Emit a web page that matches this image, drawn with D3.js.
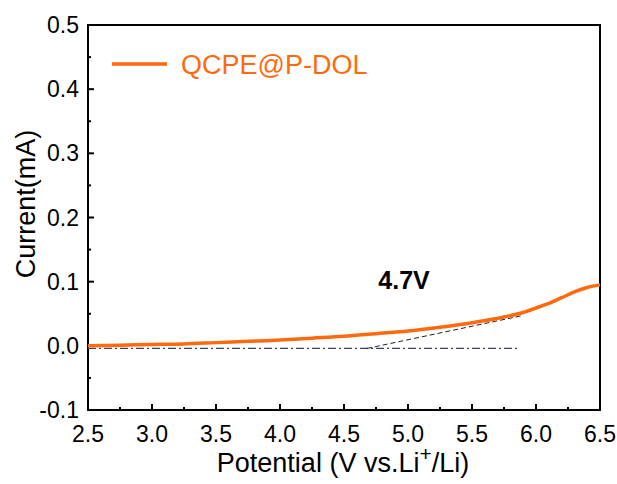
<!DOCTYPE html>
<html>
<head>
<meta charset="utf-8">
<script src="https://cdn.jsdelivr.net/npm/d3@7"></script>
<style>
  body { margin: 0; background: #fff; }
  svg text { font-family: Arial, "Liberation Sans", sans-serif; }
</style>
</head>
<body>
<div id="chart"></div>
<script>
// LSV curve, QCPE@P-DOL
const potential = [2.5, 2.75, 3.0, 3.25, 3.5, 3.75, 4.0, 4.25, 4.5, 4.75, 5.0, 5.25, 5.5, 5.75, 5.9, 6.0, 6.1, 6.2, 6.3, 6.4, 6.5];
const current   = [0.000, 0.001, 0.002, 0.003, 0.005, 0.007, 0.009, 0.012, 0.015, 0.019, 0.023, 0.029, 0.036, 0.045, 0.052, 0.059, 0.066, 0.075, 0.084, 0.091, 0.095];
const baselineX = [2.5, 5.86];
const baselineY = [-0.004, -0.004];
const tangentX = [4.68, 5.89];
const tangentY = [-0.004, 0.047];
const xTicks = [2.5, 3.0, 3.5, 4.0, 4.5, 5.0, 5.5, 6.0, 6.5];
const yTicks = [-0.1, 0.0, 0.1, 0.2, 0.3, 0.4, 0.5];
const seriesName = "QCPE@P-DOL";
const onsetLabel = "4.7V";

const width = 617, height = 484;
const margin = {left: 88, right: 17, top: 25, bottom: 74};
const orange = "#ff6a0e";
const fmt = d => d.toFixed(1);

const svg = d3.select("#chart").append("svg")
    .attr("width", width).attr("height", height);

const x = d3.scaleLinear().domain([2.5, 6.5]).range([margin.left, width - margin.right]);
const y = d3.scaleLinear().domain([-0.1, 0.5]).range([height - margin.bottom, margin.top]);

// frame
svg.append("rect")
    .attr("x", x(2.5)).attr("y", y(0.5))
    .attr("width", x(6.5) - x(2.5)).attr("height", y(-0.1) - y(0.5))
    .attr("fill", "none").attr("stroke", "#000").attr("stroke-width", 2);

// x axis, ticks inside
const xMinor = d3.range(2.75, 6.5, 0.5);
svg.append("g").selectAll("line.maj").data(xTicks.slice(1, -1)).enter().append("line")
    .attr("x1", d => x(d)).attr("x2", d => x(d))
    .attr("y1", y(-0.1)).attr("y2", y(-0.1) - 6)
    .attr("stroke", "#000").attr("stroke-width", 2);
svg.append("g").selectAll("line.min").data(xMinor).enter().append("line")
    .attr("x1", d => x(d)).attr("x2", d => x(d))
    .attr("y1", y(-0.1)).attr("y2", y(-0.1) - 3)
    .attr("stroke", "#000").attr("stroke-width", 2);
svg.append("g").selectAll("text").data(xTicks).enter().append("text")
    .attr("x", d => x(d)).attr("y", y(-0.1) + 32)
    .attr("text-anchor", "middle").attr("font-size", 23)
    .text(fmt);

// y axis, ticks inside
const yMinor = d3.range(-0.05, 0.5, 0.1);
svg.append("g").selectAll("line.maj").data(yTicks.slice(1, -1)).enter().append("line")
    .attr("x1", x(2.5)).attr("x2", x(2.5) + 6)
    .attr("y1", d => y(d)).attr("y2", d => y(d))
    .attr("stroke", "#000").attr("stroke-width", 2);
svg.append("g").selectAll("line.min").data(yMinor).enter().append("line")
    .attr("x1", x(2.5)).attr("x2", x(2.5) + 3)
    .attr("y1", d => y(d)).attr("y2", d => y(d))
    .attr("stroke", "#000").attr("stroke-width", 2);
svg.append("g").selectAll("text").data(yTicks).enter().append("text")
    .attr("x", x(2.5) - 9).attr("y", d => y(d) + 8)
    .attr("text-anchor", "end").attr("font-size", 23)
    .text(fmt);

// axis titles
svg.append("text")
    .attr("transform", "translate(35,204) rotate(-90)")
    .attr("text-anchor", "middle").attr("font-size", 27)
    .text("Current(mA)");
const xt = svg.append("text")
    .attr("x", 343).attr("y", 472)
    .attr("text-anchor", "middle").attr("font-size", 27);
xt.append("tspan").text("Potential (V vs.Li");
xt.append("tspan").attr("dy", -11).attr("font-size", 21).text("+");
xt.append("tspan").attr("dy", 11).text("/Li)");

// helper lines
svg.append("path")
    .datum(d3.zip(baselineX, baselineY))
    .attr("d", d3.line().x(d => x(d[0])).y(d => y(d[1])))
    .attr("stroke", "#3b4160").attr("stroke-width", 1.3)
    .attr("stroke-dasharray", "8,3,2,3").attr("fill", "none");
svg.append("path")
    .datum(d3.zip(tangentX, tangentY))
    .attr("d", d3.line().x(d => x(d[0])).y(d => y(d[1])))
    .attr("stroke", "#222").attr("stroke-width", 1)
    .attr("stroke-dasharray", "5,3").attr("fill", "none");

// curve
svg.append("path")
    .datum(d3.zip(potential, current))
    .attr("d", d3.line().curve(d3.curveCatmullRom).x(d => x(d[0])).y(d => y(d[1])))
    .attr("stroke", orange).attr("stroke-width", 3.5).attr("fill", "none");

// onset label
svg.append("text")
    .attr("x", 404).attr("y", 289)
    .attr("text-anchor", "middle").attr("font-size", 25).attr("font-weight", "bold")
    .text(onsetLabel);

// legend
svg.append("line")
    .attr("x1", 112).attr("x2", 167).attr("y1", 64).attr("y2", 64)
    .attr("stroke", orange).attr("stroke-width", 3.5);
svg.append("text")
    .attr("x", 181).attr("y", 74)
    .attr("font-size", 27).attr("fill", orange)
    .text(seriesName);
</script>
</body>
</html>
